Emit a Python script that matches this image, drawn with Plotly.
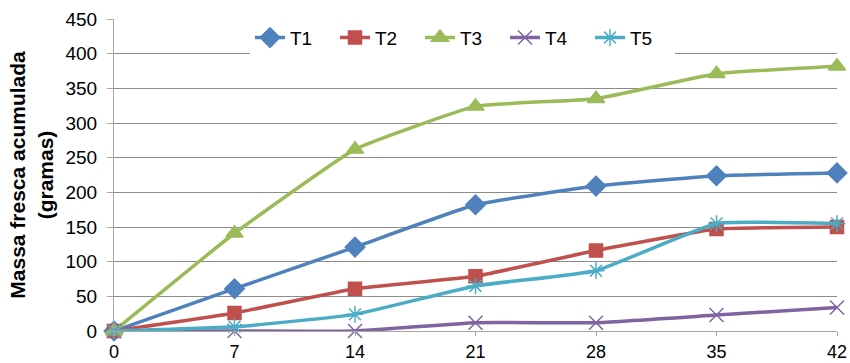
import plotly.graph_objects as go

# Days after planting
dias = [0, 7, 14, 21, 28, 35, 42]

# Accumulated fresh mass (grams) per treatment
t1 = [0, 61, 121, 182, 209, 224, 228]
t2 = [0, 26, 61, 79, 116, 147, 150]
t3 = [0, 141, 262, 324, 335, 371, 382]
t4 = [0, 0, 0, 12, 12, 23, 34]
t5 = [0, 6, 24, 65, 87, 155, 155]

series = [
    ("T1", t1, "#4F81BD", "diamond", 15),
    ("T2", t2, "#C0504D", "square", 13),
    ("T3", t3, "#9BBB59", "triangle-up", 15),
    ("T4", t4, "#8064A2", "x-thin", 14),
    ("T5", t5, "#4BACC6", "asterisk", 14),
]

fig = go.Figure()
for name, vals, color, symbol, size in series:
    fig.add_trace(go.Scatter(
        x=dias, y=vals, name=name, mode="lines+markers",
        line=dict(color=color, width=3.5, shape="spline", smoothing=0.35),
        marker=dict(symbol=symbol, size=size, color=color,
                    line=dict(color=color, width=1.5)),
        cliponaxis=False,
    ))

fig.update_layout(
    width=850, height=363,
    margin=dict(l=114, r=13, t=19, b=32),
    paper_bgcolor="white", plot_bgcolor="white",
    font=dict(family="Liberation Sans, Arial, sans-serif", size=19, color="black"),
    showlegend=True,
    legend=dict(orientation="h", x=(250 - 114) / 723, xanchor="left",
                y=0.94, yanchor="middle",
                bgcolor="white", font=dict(size=19),
                entrywidth=40, entrywidthmode="pixels",
                tracegroupgap=0),
    xaxis=dict(
        range=[0, 42], tickvals=dias, ticktext=[str(d) for d in dias],
        showgrid=False, zeroline=False, showline=True, linecolor="#A6A6A6",
        linewidth=1, ticks="outside", ticklen=4, tickcolor="#A6A6A6",
        tickfont=dict(size=18), automargin=False,
    ),
    yaxis=dict(
        range=[0, 450], dtick=50, showgrid=True, gridcolor="#8C8C8C",
        gridwidth=1, zeroline=False, showline=True, linecolor="#A6A6A6",
        linewidth=1, ticks="outside", ticklen=6, tickcolor="#A6A6A6",
        tickfont=dict(size=19), ticklabelstandoff=6, automargin=False,
        title=dict(text="<b>Massa fresca acumulada<br>(gramas)</b>",
                   font=dict(size=21), standoff=6),
    ),
)

fig.write_html("out.html")
